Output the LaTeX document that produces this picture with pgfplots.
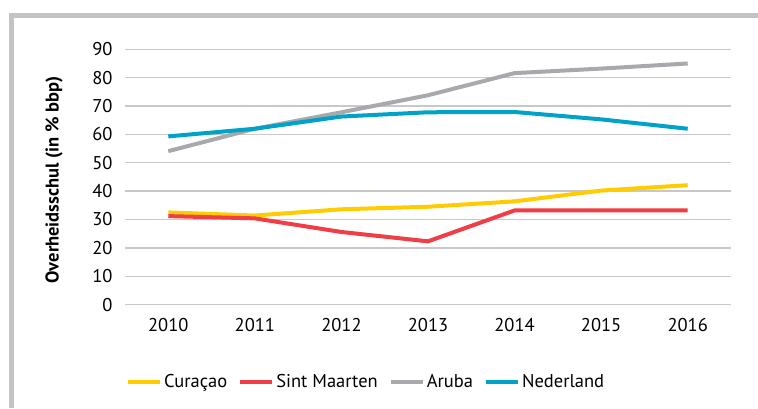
\documentclass[border=0pt]{standalone}
\usepackage{pgfplots}
\pgfplotsset{compat=1.18}
\usepackage{fontspec}
\setmainfont{PT Sans}

\definecolor{curacao}{HTML}{FFCC00}
\definecolor{sxm}{HTML}{EF3E45}
\definecolor{aruba}{HTML}{A7A9AC}
\definecolor{nl}{HTML}{00A3C7}
\definecolor{framec}{HTML}{C3C3C3}
\definecolor{gridc}{HTML}{C8C8C8}

\begin{document}
\begin{tikzpicture}[x=1pt,y=1pt]
\useasboundingbox (0,0) rectangle (758,408);
% grey frame, top and left
\draw[framec, line width=5.3pt, line join=miter] (11.7,0) -- (11.7,392.2) -- (758,392.2);

\begin{axis}[
    at={(125pt,103.4pt)}, anchor=south west,
    scale only axis,
    width=606pt, height=255.3pt,
    xmin=-0.5, xmax=6.5,
    ymin=0, ymax=90,
    xtick={0,1,2,3,4,5,6},
    xticklabels={2010,2011,2012,2013,2014,2015,2016},
    ytick={0,10,...,90},
    ymajorgrids,
    grid style={gridc, line width=1.4pt},
    axis line style={draw=none},
    major tick length=0pt,
    tick label style={font=\fontsize{18.5}{21}\selectfont},
    /pgf/number format/assume math mode=true,
    yticklabel style={xshift=-9pt},
    xticklabel style={yshift=-10pt},
    ylabel={Overheidsschul (in \% bbp)},
    ylabel style={font=\bfseries\fontsize{18.5}{21}\selectfont,
        at={(axis description cs:-0.117,0.488)}, anchor=center},
    legend style={
        at={(axis description cs:0.398,-0.302)},
        anchor=center,
        draw=none,
        legend columns=4,
        font=\fontsize{18.5}{21}\selectfont,
        /tikz/every even column/.append style={column sep=9pt}
    },
    legend image code/.code={\draw[#1, line width=4pt] (0pt,0pt) -- (32pt,0pt);},
    every axis plot/.append style={line width=4pt, no markers},
]

% Curacao
\addplot[curacao] coordinates {
    (0,32.5) (1,31.4) (2,33.6) (3,34.5) (4,36.4) (5,40.2) (6,42.1)
};

% Sint Maarten
\addplot[sxm] coordinates {
    (0,31.2) (1,30.4) (2,25.6) (3,22.3) (4,33.2) (5,33.2) (6,33.2)
};

% Aruba
\addplot[aruba] coordinates {
    (0,54.1) (1,62.0) (2,67.8) (3,73.8) (4,81.6) (5,83.2) (6,85.0)
};

% Nederland
\addplot[nl] coordinates {
    (0,59.3) (1,62.0) (2,66.3) (3,67.8) (4,67.9) (5,65.3) (6,62.0)
};

\legend{Curaçao, Sint Maarten, Aruba, Nederland}
\end{axis}
\end{tikzpicture}
\end{document}
